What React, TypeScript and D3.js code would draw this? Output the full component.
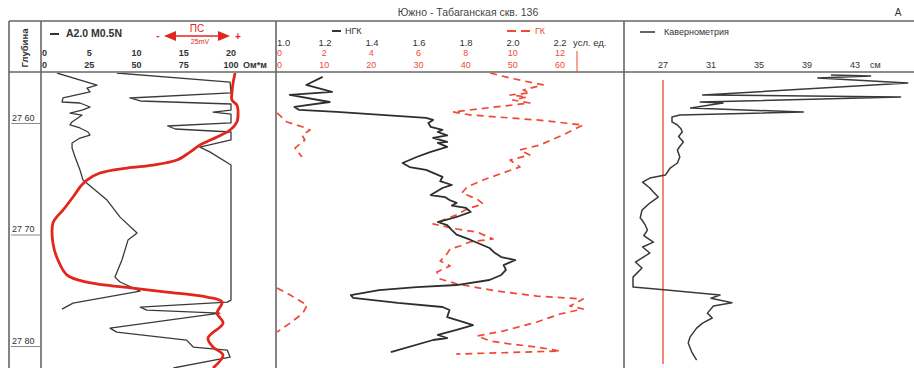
import React, { useRef, useEffect } from 'react';
import * as d3 from 'd3';

type Pt = [number, number]; // [depth m, value]

const title = 'Южно - Табаганская скв. 136';
const depthTicks = [2760, 2770, 2780];
const resFineTicks = [0, 5, 10, 15, 20];
const resFullTicks = [0, 25, 50, 75, 100];
const ngkTicks = [1.0, 1.2, 1.4, 1.6, 1.8, 2.0, 2.2];
const gkFineTicks = [0, 2, 4, 6, 8, 10, 12];
const gkTicks = [0, 10, 20, 30, 40, 50, 60];
const calTicks = [27, 31, 35, 39, 43];
const bitSize = 27;

// A2.0 M0.5N, Ohm*m, full scale 0-100
const resFull: Pt[] = [
  [2755.61, 7.9], [2756.69, 29.1], [2756.96, 23.8], [2757.31, 25.4], [2757.85, 11.1],
  [2758.21, 10.6], [2758.3, 20.1], [2758.66, 25.4], [2758.93, 21.2], [2759.2, 14.8],
  [2759.38, 21.2], [2760.0, 15.9], [2760.27, 14.8], [2760.54, 20.1], [2760.9, 24.3],
  [2761.17, 25.4], [2761.44, 20.1], [2761.89, 15.9], [2762.34, 15.9], [2763.14, 17.5],
  [2764.31, 20.1], [2765.21, 21.7], [2767.0, 34.4], [2768.53, 41.3], [2769.96, 50.3],
  [2770.59, 45.5], [2772.38, 42.3], [2773.91, 38.6], [2774.35, 41.3], [2775.16, 51.9],
  [2776.24, 16.4], [2776.78, 10.6]
];

// A2.0 M0.5N, Ohm*m, scale 0-20 (pinned at 20)
const resFine: Pt[] = [
  [2755.61, 7.9], [2756.42, 19.9], [2757.4, 20], [2757.85, 9.3], [2758.12, 10.4],
  [2758.39, 20], [2758.93, 20], [2759.11, 18.1], [2759.29, 20], [2760.09, 20],
  [2760.36, 13.3], [2760.63, 14.1], [2760.9, 20], [2761.61, 20], [2762.25, 16.7],
  [2762.7, 17.8], [2763.86, 20], [2775.97, 20], [2776.15, 19.6], [2776.6, 10.4],
  [2776.87, 11.1], [2777.14, 18.8], [2778.48, 7.2], [2778.84, 7.9], [2779.56, 15.3],
  [2780.18, 16.0], [2780.45, 19.6], [2781.08, 19.9], [2782.06, 13.9]
];

// ПС, mV relative to shale line
const sp: Pt[] = [
  [2755.61, 1.8], [2756.51, 0.9], [2757.4, 0.4], [2758.03, 0.4], [2758.48, 2.6],
  [2759.2, 3.1], [2760.0, 2.6], [2760.72, -0.4], [2761.35, -6.1], [2762.07, -13.6],
  [2762.7, -18.0], [2763.41, -23.7], [2763.86, -34.2], [2764.13, -45.6], [2764.58, -57.5],
  [2765.21, -63.2], [2765.83, -66.2], [2766.73, -69.3], [2767.9, -73.7], [2768.61, -76.8],
  [2769.06, -78.1], [2770.86, -78.1], [2772.38, -75.9], [2773.73, -71.9], [2774.36, -63.2],
  [2774.9, -43.0], [2775.25, -28.1], [2775.7, -10.5], [2776.15, -3.9], [2777.14, -6.1],
  [2778.03, -3.5], [2779.38, -10.1], [2780.18, -7.9], [2780.9, -3.5], [2782.06, -7.9]
];

// НГК, усл. ед.
const ngk: Pt[] = [
  [2755.96, 1.19], [2756.68, 1.12], [2757.31, 1.23], [2757.58, 1.05], [2758.21, 1.22],
  [2758.65, 1.07], [2758.92, 1.09], [2759.1, 1.25], [2759.64, 1.63], [2759.82, 1.66],
  [2760.1, 1.64], [2760.45, 1.65], [2760.7, 1.7], [2760.9, 1.68], [2761.2, 1.72],
  [2761.43, 1.66], [2761.79, 1.72], [2761.88, 1.68], [2762.24, 1.72], [2762.69, 1.65],
  [2763.14, 1.59], [2763.68, 1.53], [2764.04, 1.56], [2764.3, 1.63], [2764.93, 1.7],
  [2765.3, 1.69], [2765.65, 1.74], [2765.92, 1.7], [2766.55, 1.65], [2766.73, 1.71],
  [2767.0, 1.73], [2767.26, 1.76], [2767.5, 1.74], [2767.71, 1.8], [2768.07, 1.82],
  [2768.52, 1.76], [2768.7, 1.73], [2768.97, 1.68], [2769.24, 1.72], [2769.69, 1.74],
  [2770.1, 1.76], [2770.58, 1.82], [2771.03, 1.87], [2771.3, 1.9], [2771.7, 1.92],
  [2772.11, 1.95], [2772.38, 2.01], [2772.83, 1.96], [2773.27, 1.97], [2773.72, 1.95],
  [2774.17, 1.9], [2774.62, 1.76], [2774.8, 1.59], [2775.07, 1.43], [2775.52, 1.31],
  [2775.78, 1.32], [2776.23, 1.51], [2776.59, 1.7], [2776.86, 1.73], [2777.49, 1.72],
  [2777.94, 1.79], [2778.21, 1.83], [2778.65, 1.76], [2779.1, 1.68], [2779.37, 1.72],
  [2779.55, 1.66], [2780.63, 1.48]
];

// ГК, scale 0-60
const gk: Pt[] = [
  [2755.61, 45.2], [2756.06, 49.4], [2756.68, 56.4], [2757.13, 52.2], [2757.4, 53.6],
  [2757.58, 49.4], [2757.76, 53.0], [2758.03, 50.0], [2758.3, 53.6], [2759.1, 37.3],
  [2759.37, 40.9], [2759.82, 55.1], [2760.27, 64.9], [2761.17, 60.6], [2762.06, 55.8],
  [2762.51, 51.5], [2762.96, 53.6], [2763.41, 49.4], [2764.04, 51.5], [2764.57, 47.9],
  [2765.2, 43.7], [2765.83, 40.3], [2766.37, 39.2], [2766.91, 42.4], [2767.35, 43.7],
  [2767.8, 40.3], [2768.3, 38.2], [2769.15, 33.1], [2769.6, 38.2], [2769.87, 42.4],
  [2770.49, 45.8], [2770.76, 40.9], [2771.12, 38.8], [2771.39, 36.7], [2771.84, 36.0],
  [2772.47, 34.6], [2772.91, 36.7], [2773.45, 33.9], [2774.08, 34.6], [2774.53, 38.2],
  [2775.16, 46.6], [2775.61, 55.1], [2775.88, 64.9], [2776.5, 62.1], [2776.77, 64.9],
  [2777.22, 60.0], [2777.94, 55.1], [2778.75, 47.9], [2779.19, 42.4], [2779.64, 45.2],
  [2779.91, 49.4], [2780.18, 55.1], [2780.54, 60.0], [2780.81, 38.0]
];

// ГК, wrapped part near the left edge of the track
const gkWrapA: Pt[] = [
  [2759.19, 0], [2760.0, 2.1], [2760.45, 5.5], [2760.72, 7.0], [2761.17, 5.3],
  [2761.62, 5.9], [2762.34, 3.8], [2763.14, 5.3]
];
const gkWrapB: Pt[] = [
  [2774.89, 0], [2775.52, 2.8], [2776.42, 6.4], [2777.14, 5.5], [2778.03, 2.8], [2778.84, 0]
];

// Кавернометрия, cm
const caliper: Pt[] = [
  [2755.79, 41.0], [2755.88, 44.3], [2756.06, 39.9], [2756.51, 47.4], [2757.58, 30.3],
  [2757.76, 46.8], [2758.21, 30.1], [2758.3, 32.0], [2758.75, 29.3], [2759.11, 38.7],
  [2759.38, 28.4], [2759.56, 27.75], [2760.0, 27.75], [2760.27, 28.2], [2760.6, 28.5],
  [2760.9, 28.6], [2761.3, 28.3], [2761.8, 28.7], [2762.2, 28.4], [2762.51, 28.2],
  [2763.14, 28.4], [2763.68, 28.2], [2764.13, 27.6], [2764.76, 27.2], [2765.03, 25.9],
  [2765.39, 25.3], [2765.92, 25.9], [2766.28, 26.2], [2766.73, 26.6], [2767.27, 25.9],
  [2767.9, 25.25], [2768.61, 25.1], [2768.79, 25.25], [2769.2, 25.5], [2769.69, 25.7],
  [2770.2, 25.4], [2770.77, 26.2], [2771.21, 25.3], [2771.75, 25.9], [2772.56, 24.7],
  [2773.1, 25.25], [2773.91, 24.5], [2774.8, 24.5], [2775.07, 27.3], [2775.52, 31.75],
  [2775.8, 31.0], [2776.2, 32.75], [2776.5, 31.2], [2777.14, 30.7], [2777.58, 31.1],
  [2778.03, 30.3], [2778.48, 29.8], [2779.29, 29.25], [2779.82, 29.1], [2780.63, 29.4],
  [2781.35, 29.8]
];

const W = 914;
const H = 368;
const RED = '#e3261c';
const GK_RED = '#ee4a36';
const INK = '#333';
const FRAME = '#666';
const FONT = '"Liberation Sans", Arial, sans-serif';

const WellLog: React.FC = () => {
  const svgRef = useRef<SVGSVGElement>(null);

  useEffect(() => {
    if (!svgRef.current) return;
    const svg = d3.select(svgRef.current);
    svg.selectAll('*').remove();

    const top = 72;
    const y = d3.scaleLinear().domain([2755.52, 2782.06]).range([top, H]);

    const xResFull = d3.scaleLinear().domain([0, 100]).range([42, 231]);
    const xResFine = d3.scaleLinear().domain([0, 20]).range([42, 231]).clamp(true);
    const xSp = d3.scaleLinear().domain([-80, 0]).range([48.6, 231]);
    const xNgk = d3.scaleLinear().domain([1.0, 2.2]).range([278, 560]);
    const xGk = d3.scaleLinear().domain([0, 60]).range([277, 560]);
    const xGkFine = d3.scaleLinear().domain([0, 12]).range([277, 560]);
    const xCal = d3.scaleLinear().domain([27, 43]).range([663, 855]);

    const tracks = [
      { id: 'clip-t1', x0: 41, x1: 276 },
      { id: 'clip-t2', x0: 276, x1: 624 },
      { id: 'clip-t3', x0: 624, x1: W }
    ];
    const defs = svg.append('defs');
    tracks.forEach(t => {
      defs.append('clipPath').attr('id', t.id)
        .append('rect').attr('x', t.x0 + 1).attr('y', top + 1)
        .attr('width', t.x1 - t.x0 - 2).attr('height', H - top);
    });

    svg.append('rect').attr('width', W).attr('height', H).attr('fill', '#fff');

    // title
    svg.append('text').attr('x', 468).attr('y', 16).attr('text-anchor', 'middle')
      .style('font-size', '10.5px').style('fill', '#444').style('font-family', FONT).text(title);
    svg.append('text').attr('x', 898).attr('y', 16).attr('text-anchor', 'middle')
      .style('font-size', '10px').style('fill', INK).style('font-family', FONT).text('А');

    // frame
    const frame = svg.append('g').attr('stroke', FRAME).attr('stroke-width', 1.6).attr('fill', 'none');
    frame.append('line').attr('x1', 9).attr('x2', W).attr('y1', 21).attr('y2', 21);
    frame.append('line').attr('x1', 9).attr('x2', W).attr('y1', top).attr('y2', top);
    [9, 41, 276, 624].forEach(x => {
      frame.append('line').attr('x1', x).attr('x2', x).attr('y1', 21).attr('y2', H);
    });

    const txt = (g: d3.Selection<any, any, any, any>, x: number, yy: number, s: string,
      opts: { size?: number; color?: string; anchor?: string; weight?: string } = {}) =>
      g.append('text').attr('x', x).attr('y', yy)
        .attr('text-anchor', opts.anchor || 'start')
        .style('font-family', FONT)
        .style('font-size', `${opts.size || 9}px`)
        .style('font-weight', opts.weight || 'normal')
        .style('fill', opts.color || INK)
        .text(s);

    const head = svg.append('g');

    // depth column
    head.append('text').attr('transform', 'translate(28,48) rotate(-90)')
      .attr('text-anchor', 'middle').style('font-family', FONT).style('font-size', '9.5px')
      .style('font-weight', 'bold').style('fill', INK).text('Глубина');
    depthTicks.forEach(d => {
      txt(head, 12, y(d) - 1, `${String(d).slice(0, 2)} ${String(d).slice(2)}`, { size: 9 });
      head.append('line').attr('x1', 11).attr('x2', 40).attr('y1', y(d) + 1.5).attr('y2', y(d) + 1.5)
        .attr('stroke', '#888').attr('stroke-width', 1);
    });

    // track 1 header
    head.append('line').attr('x1', 50).attr('x2', 59).attr('y1', 34).attr('y2', 34)
      .attr('stroke', INK).attr('stroke-width', 2);
    txt(head, 66, 37, 'A2.0 M0.5N', { size: 10.5, weight: 'bold' });
    resFineTicks.forEach((v, i) =>
      txt(head, i === 0 ? 42 : xResFine(v), 56, String(v), { anchor: i === 0 ? 'start' : 'middle', weight: 'bold' }));
    resFullTicks.forEach((v, i) =>
      txt(head, i === 0 ? 42 : xResFull(v), 68, String(v), { anchor: i === 0 ? 'start' : 'middle', weight: 'bold' }));
    txt(head, 243, 68, 'Ом*м', { weight: 'bold' });

    // SP scale arrow
    const arrowY = 36;
    const ax0 = 164;
    const ax1 = 230;
    head.append('line').attr('x1', ax0 + 8).attr('x2', ax1 - 8).attr('y1', arrowY).attr('y2', arrowY)
      .attr('stroke', RED).attr('stroke-width', 1.5);
    head.append('path').attr('fill', RED)
      .attr('d', `M${ax0},${arrowY} L${ax0 + 12},${arrowY - 5} L${ax0 + 12},${arrowY + 5} Z`);
    head.append('path').attr('fill', RED)
      .attr('d', `M${ax1},${arrowY} L${ax1 - 12},${arrowY - 5} L${ax1 - 12},${arrowY + 5} Z`);
    txt(head, 197, 32, 'ПС', { size: 10, color: RED, anchor: 'middle' });
    txt(head, 200, 44, '25mV', { size: 7, color: RED, anchor: 'middle' });
    txt(head, 158, 39, '-', { size: 10, color: RED, anchor: 'middle', weight: 'bold' });
    txt(head, 238, 40, '+', { size: 10, color: RED, anchor: 'middle', weight: 'bold' });

    // track 2 header
    head.append('line').attr('x1', 332).attr('x2', 341).attr('y1', 31).attr('y2', 31)
      .attr('stroke', INK).attr('stroke-width', 2);
    txt(head, 345, 34, 'НГК', { size: 9 });
    head.append('line').attr('x1', 507).attr('x2', 533).attr('y1', 31).attr('y2', 31)
      .attr('stroke', GK_RED).attr('stroke-width', 2).attr('stroke-dasharray', '9,5');
    txt(head, 535, 34, 'ГК', { size: 9, color: GK_RED });
    ngkTicks.forEach((v, i) =>
      txt(head, i === 0 ? 277 : xNgk(v), 46, v.toFixed(1), { anchor: i === 0 ? 'start' : 'middle', size: 9.5 }));
    txt(head, 573, 46, 'усл. ед.', { size: 9.5 });
    gkFineTicks.forEach((v, i) =>
      txt(head, i === 0 ? 277 : xGkFine(v), 56, String(v), { anchor: i === 0 ? 'start' : 'middle', color: GK_RED }));
    gkTicks.forEach((v, i) =>
      txt(head, i === 0 ? 277 : xGk(v), 68, String(v), { anchor: i === 0 ? 'start' : 'middle', color: GK_RED }));
    head.append('line').attr('x1', 577).attr('x2', 577).attr('y1', 51).attr('y2', top)
      .attr('stroke', GK_RED).attr('stroke-width', 1);

    // track 3 header
    head.append('line').attr('x1', 640).attr('x2', 655).attr('y1', 32).attr('y2', 32)
      .attr('stroke', INK).attr('stroke-width', 1.5);
    txt(head, 664, 35, 'Кавернометрия', { size: 9 });
    calTicks.forEach(v => txt(head, xCal(v), 68, String(v), { anchor: 'middle' }));
    txt(head, 870, 68, 'см', { size: 9 });

    // curves
    const draw = (data: Pt[], xs: (v: number) => number, clip: string, color: string,
      width: number, dash?: string, curve: d3.CurveFactory = d3.curveLinear) => {
      const line = d3.line<Pt>().x(d => xs(d[1])).y(d => y(d[0])).curve(curve);
      svg.append('path').datum(data)
        .attr('clip-path', `url(#${clip})`)
        .attr('d', line)
        .attr('fill', 'none')
        .attr('stroke', color)
        .attr('stroke-width', width)
        .attr('stroke-linejoin', 'round')
        .attr('stroke-dasharray', dash || null);
    };

    // track 1
    draw(resFull, xResFull, 'clip-t1', '#3a3a3a', 1.3);
    draw(resFine, xResFine, 'clip-t1', '#3a3a3a', 1.3);
    draw(sp, xSp, 'clip-t1', RED, 2.8, undefined, d3.curveCatmullRom);

    // track 2
    draw(gk, xGk, 'clip-t2', GK_RED, 1.7, '7,5');
    draw(gkWrapA, xGk, 'clip-t2', GK_RED, 1.7, '7,5');
    draw(gkWrapB, xGk, 'clip-t2', GK_RED, 1.7, '7,5');
    draw(ngk, xNgk, 'clip-t2', '#2e2e2e', 1.8);

    // track 3
    svg.append('line').attr('x1', xCal(bitSize)).attr('x2', xCal(bitSize))
      .attr('y1', 80).attr('y2', 364)
      .attr('stroke', '#f08a78').attr('stroke-width', 2);
    draw(caliper, xCal, 'clip-t3', '#3a3a3a', 1.5);
  }, []);

  return (
    <svg
      ref={svgRef}
      width={W}
      height={H}
      viewBox={`0 0 ${W} ${H}`}
      style={{ position: 'absolute', left: 0, top: 0, display: 'block' }}
    />
  );
};

export default function App() {
  return <WellLog />;
}
